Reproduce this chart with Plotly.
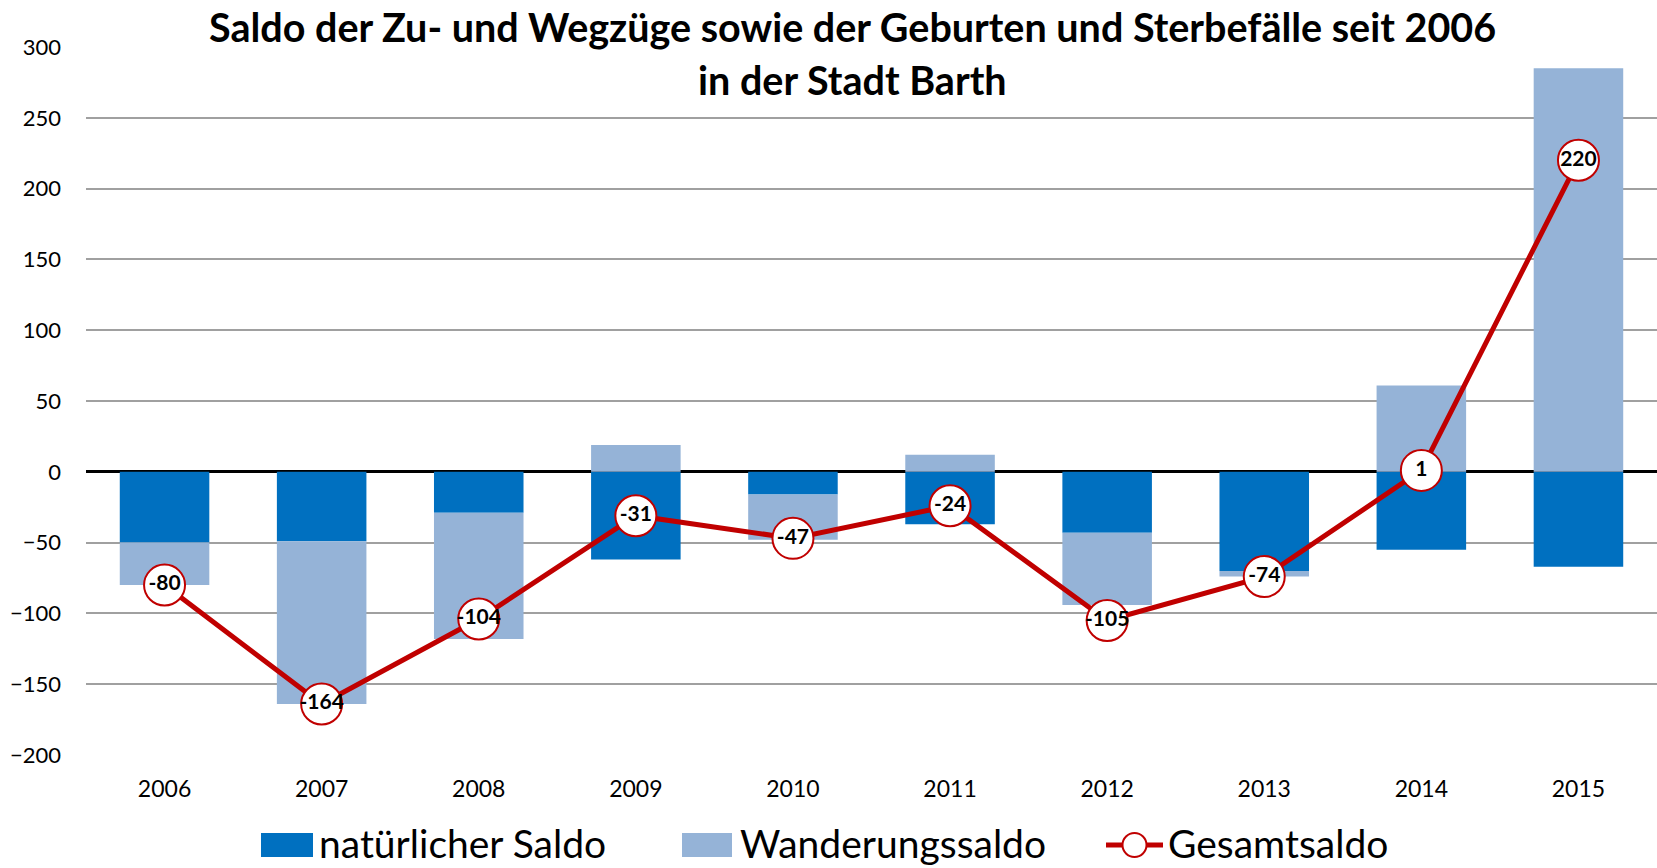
import plotly.graph_objects as go

years = ['2006', '2007', '2008', '2009', '2010', '2011', '2012', '2013', '2014', '2015']
natuerlich = [-50, -49, -29, -62, -16, -37, -43, -70, -55, -67]
wanderung = [-30, -115, -89, 19, -32, 12, -51, -4, 61, 285]
gesamt = [-80, -164, -104, -31, -47, -24, -105, -74, 1, 220]
y_ticks = [-200, -150, -100, -50, 0, 50, 100, 150, 200, 250, 300]

FONT = 'Lato'
DARK = '#0070C0'
LIGHT = '#95B3D7'
RED = '#C00000'

# plot area in pixels, used to place title and legend in paper coords
L, R, T, B = 86, 0, 47, 113
W, H = 1657, 868
PW, PH = W - L - R, H - T - B


def px(x):
    return (x - L) / PW


def py(y):
    return (H - B - y) / PH


fig = go.Figure()

fig.add_trace(go.Bar(
    x=years, y=natuerlich, name='natürlicher Saldo',
    marker=dict(color=DARK, line=dict(width=0))
))
fig.add_trace(go.Bar(
    x=years, y=wanderung, name='Wanderungssaldo',
    marker=dict(color=LIGHT, line=dict(width=0))
))
fig.add_trace(go.Scatter(
    x=years, y=gesamt, name='Gesamtsaldo',
    mode='lines+markers+text',
    line=dict(color=RED, width=5),
    marker=dict(size=41, color='white', line=dict(color=RED, width=2)),
    text=[str(v) for v in gesamt],
    textposition='middle center',
    textfont=dict(family=FONT, size=21, color='black', weight='bold'),
    cliponaxis=False
))

# title as two centred lines
title_font = dict(family=FONT, size=39.5, color='black', weight='bold')
fig.add_annotation(text='Saldo der Zu- und Wegzüge sowie der Geburten und Sterbefälle seit 2006',
                   x=px(852), y=py(26), xref='paper', yref='paper', showarrow=False,
                   xanchor='center', yanchor='middle', font=title_font)
fig.add_annotation(text='in der Stadt Barth',
                   x=px(852), y=py(79), xref='paper', yref='paper', showarrow=False,
                   xanchor='center', yanchor='middle', font=title_font)

# legend drawn by hand for the large swatches
leg_y = 845
legend_items = [
    ('rect', DARK, 261, 313, 'natürlicher Saldo', 317),
    ('rect', LIGHT, 682, 732, 'Wanderungssaldo', 738),
    ('line', RED, 1106, 1163, 'Gesamtsaldo', 1166),
]
for kind, col, x0, x1, label, tx in legend_items:
    if kind == 'rect':
        fig.add_shape(type='rect', xref='paper', yref='paper',
                      x0=px(x0), x1=px(x1), y0=py(leg_y + 12), y1=py(leg_y - 12),
                      fillcolor=col, line=dict(width=0))
    else:
        fig.add_shape(type='line', xref='paper', yref='paper',
                      x0=px(x0), x1=px(x1), y0=py(leg_y), y1=py(leg_y),
                      line=dict(color=col, width=5))
        cx = (x0 + x1) / 2
        fig.add_shape(type='circle', xref='paper', yref='paper',
                      x0=px(cx - 12), x1=px(cx + 12), y0=py(leg_y + 12), y1=py(leg_y - 12),
                      fillcolor='white', line=dict(color=col, width=2))
    fig.add_annotation(text=label, x=px(tx), y=py(leg_y - 2), xref='paper', yref='paper',
                       showarrow=False, xanchor='left', yanchor='middle',
                       font=dict(family=FONT, size=39, color='black'))

fig.update_layout(
    barmode='relative',
    bargap=0.43,
    width=W, height=H,
    paper_bgcolor='white', plot_bgcolor='white',
    margin=dict(l=L, r=R, t=T, b=B, autoexpand=False),
    font=dict(family=FONT, color='black'),
    xaxis=dict(
        range=[-0.5, 9.5],
        showgrid=False, showline=False, ticks='',
        tickfont=dict(size=23), ticklabelstandoff=18
    ),
    yaxis=dict(
        range=[-200, 300], tickvals=y_ticks,
        showgrid=True, gridcolor='#A0A0A0', gridwidth=1.5,
        zeroline=True, zerolinecolor='black', zerolinewidth=2.5,
        tickfont=dict(size=22), ticklabelstandoff=24
    ),
    showlegend=False
)

# drop the default body margin so the figure sits at the page corner
fig.write_html("out.html", config={'displayModeBar': False},
               post_script="document.body.style.margin='0px';")
